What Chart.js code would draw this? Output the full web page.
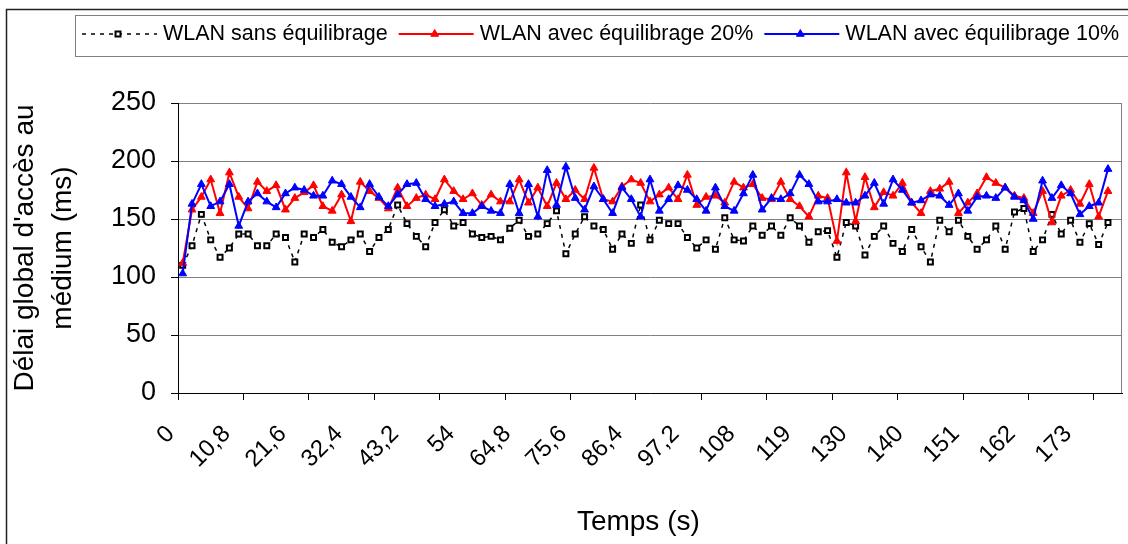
<!DOCTYPE html>
<html>
<head>
<meta charset="utf-8">
<script src="https://cdn.jsdelivr.net/npm/chart.js@4.4.1/dist/chart.umd.min.js"></script>
<style>
  html, body { margin: 0; padding: 0; background: #fff; }
  #wrap { width: 1128px; height: 544px; }
</style>
</head>
<body>
<div id="wrap"><canvas id="delayChart" width="1128" height="544"></canvas></div>
<script>
// series names, as in the legend
const seriesNames = ['WLAN sans équilibrage', 'WLAN avec équilibrage 20%', 'WLAN avec équilibrage 10%'];

// x axis: 101 slots of 1,8 s, a label every 6 slots
const tickLabels = ['0', '10,8', '21,6', '32,4', '43,2', '54', '64,8', '75,6', '86,4', '97,2',
  '108', '119', '130', '140', '151', '162', '173'];
const categories = Array.from({ length: 101 }, (_, i) => i);

// délai (ms)
const sansEquilibrage = [
  110, 127, 154, 132, 117, 125, 137, 137, 127, 127, 137, 134, 113, 137, 134, 141, 130, 126, 132, 137, 122, 134, 141, 162, 146,
  135, 126, 147, 158, 144, 147, 137, 134, 135, 132, 142, 149, 135, 137, 146, 157, 120, 137, 152, 144, 141, 124, 137, 129, 162,
  132, 149, 146, 146, 134, 125, 132, 124, 151, 132, 131, 144, 136, 144, 136, 151, 144, 130, 139, 140, 117, 147, 144, 119, 135,
  144, 129, 122, 141, 126, 113, 149, 139, 149, 135, 124, 132, 144, 124, 156, 159, 122, 132, 154, 137, 149, 130, 146, 128, 147
];
const equilibrage20 = [
  112, 158, 169, 184, 155, 190, 169, 159, 182, 174, 179, 158, 168, 173, 179, 161, 157, 171, 148, 182, 174, 168, 159, 177, 161,
  168, 171, 167, 184, 174, 167, 172, 162, 171, 165, 165, 184, 164, 177, 161, 181, 167, 175, 167, 194, 167, 165, 178, 184, 181,
  165, 171, 177, 167, 188, 162, 169, 170, 164, 182, 177, 180, 168, 167, 182, 167, 161, 152, 170, 168, 131, 190, 148, 186, 160,
  173, 170, 181, 164, 155, 174, 176, 182, 155, 164, 172, 186, 181, 177, 170, 168, 155, 174, 147, 170, 175, 163, 180, 152, 174
];
const equilibrage10 = [
  103, 163, 180, 161, 165, 180, 144, 165, 172, 165, 160, 172, 177, 175, 170, 170, 183, 180, 169, 160, 180, 169, 161, 171, 180,
  181, 167, 161, 163, 165, 155, 155, 161, 157, 155, 180, 155, 180, 152, 192, 162, 195, 168, 158, 178, 167, 155, 177, 167, 152,
  184, 157, 167, 179, 175, 167, 157, 177, 161, 157, 172, 188, 158, 168, 167, 172, 188, 180, 165, 165, 167, 164, 164, 170, 181,
  163, 184, 175, 164, 166, 171, 170, 162, 172, 157, 169, 170, 168, 177, 169, 166, 150, 183, 168, 179, 172, 154, 161, 164, 193
];

const FONT = '"Liberation Sans", Arial, sans-serif';

// frame round the whole chart + grey right edge of the plot
const framePlugin = {
  id: 'frame',
  beforeDraw(chart) {
    const ctx = chart.ctx;
    ctx.save();
    ctx.fillStyle = '#fff';
    ctx.fillRect(0, 0, chart.width, chart.height);
    ctx.restore();
  },
  beforeDatasetsDraw(chart) {
    const { ctx, chartArea } = chart;
    ctx.save();
    ctx.strokeStyle = '#808080';
    ctx.lineWidth = 1;
    ctx.beginPath();
    ctx.moveTo(Math.round(chartArea.right) - 0.5, chartArea.top);
    ctx.lineTo(Math.round(chartArea.right) - 0.5, chartArea.bottom);
    ctx.stroke();
    ctx.restore();
  },
  afterDraw(chart) {
    const ctx = chart.ctx;
    ctx.save();
    ctx.strokeStyle = '#222';
    ctx.lineWidth = 1.5;
    ctx.strokeRect(6.5, 9.5, 1140, 560);
    ctx.restore();
  }
};

// legend drawn by hand so the samples look like the original (line + marker)
const boxLegend = {
  id: 'boxLegend',
  afterDraw(chart) {
    const ctx = chart.ctx;
    const y = 34;
    ctx.save();
    ctx.fillStyle = '#fff';
    ctx.fillRect(75, 15, 1100, 42);
    ctx.strokeStyle = '#808080';
    ctx.lineWidth = 1;
    ctx.strokeRect(75.5, 15.5, 1100, 41);
    ctx.font = '21.5px ' + FONT;
    ctx.textBaseline = 'middle';
    let x = 82;
    chart.data.datasets.forEach(ds => {
      ctx.strokeStyle = ds.borderColor;
      ctx.lineWidth = ds.borderWidth;
      ctx.setLineDash(ds.borderDash || []);
      ctx.beginPath();
      ctx.moveTo(x, y);
      ctx.lineTo(x + 75, y);
      ctx.stroke();
      ctx.setLineDash([]);
      ctx.fillStyle = ds.pointBackgroundColor;
      ctx.strokeStyle = ds.pointBorderColor;
      ctx.lineWidth = ds.pointBorderWidth;
      Chart.helpers.drawPoint(ctx, {
        pointStyle: ds.pointStyle,
        radius: ds.pointRadius,
        borderWidth: ds.pointBorderWidth
      }, x + 36, y);
      ctx.fillStyle = '#000';
      ctx.fillText(ds.label, x + 81, y);
      x += 81 + ctx.measureText(ds.label).width + 11;
    });
    ctx.restore();
  }
};

new Chart(document.getElementById('delayChart'), {
  type: 'line',
  data: {
    labels: categories,
    datasets: [
      {
        label: seriesNames[0],
        data: sansEquilibrage,
        borderColor: '#000',
        borderWidth: 1.5,
        borderDash: [4, 5],
        pointStyle: 'rect',
        pointRadius: 3.5,
        pointBorderWidth: 2,
        pointBorderColor: '#000',
        pointBackgroundColor: '#fff',
        backgroundColor: '#fff',
        tension: 0,
        order: 2
      },
      {
        label: seriesNames[1],
        data: equilibrage20,
        borderColor: '#ff0000',
        backgroundColor: '#ff0000',
        borderWidth: 2,
        pointStyle: 'triangle',
        pointRadius: 4.5,
        pointBorderWidth: 1,
        pointBorderColor: '#ff0000',
        pointBackgroundColor: '#ff0000',
        tension: 0,
        order: 1
      },
      {
        label: seriesNames[2],
        data: equilibrage10,
        borderColor: '#0000ff',
        backgroundColor: '#0000ff',
        borderWidth: 2,
        pointStyle: 'triangle',
        pointRadius: 4.5,
        pointBorderWidth: 1,
        pointBorderColor: '#0000ff',
        pointBackgroundColor: '#0000ff',
        tension: 0,
        order: 0
      }
    ]
  },
  options: {
    responsive: false,
    animation: false,
    devicePixelRatio: 1,
    layout: { padding: { top: 103, right: 6, bottom: 0, left: 0 } },
    plugins: {
      legend: { display: false },
      tooltip: { enabled: false }
    },
    scales: {
      x: {
        type: 'category',
        offset: true,
        grid: {
          offset: true,
          drawOnChartArea: false,
          tickLength: 7,
          color: c => (c.index % 7 === 0 ? '#000' : 'rgba(0,0,0,0)'),
          tickColor: c => (c.index % 7 === 0 ? '#000' : 'rgba(0,0,0,0)')
        },
        border: { color: '#000', width: 1 },
        ticks: {
          autoSkip: false,
          minRotation: 45,
          maxRotation: 45,
          padding: 20,
          labelOffset: -12,
          color: '#000',
          font: { family: FONT, size: 24 },
          callback: (v, i) => (i % 6 === 0 ? tickLabels[i / 6] : '')
        },
        title: {
          display: true,
          text: 'Temps (s)\u00a0\u00a0\u00a0',
          color: '#000',
          font: { family: FONT, size: 28 },
          padding: { top: 0, bottom: 5 }
        },
        afterFit: s => {
          s.height = 151;
          s.paddingLeft = 0;
          s.paddingRight = 0;
        }
      },
      y: {
        min: 0,
        max: 250,
        grid: { color: '#808080', tickColor: '#000', tickLength: 7 },
        border: { color: '#000', width: 1 },
        ticks: {
          stepSize: 50,
          padding: 15,
          color: '#000',
          font: { family: FONT, size: 27 }
        },
        title: {
          display: true,
          text: ["Délai global d'accès au", 'médium (ms)'],
          color: '#000',
          font: { family: FONT, size: 28, lineHeight: 38 / 28 },
          padding: { top: 6, bottom: 0 }
        },
        afterFit: s => { s.width = 178; }
      }
    }
  },
  plugins: [framePlugin, boxLegend]
});
</script>
</body>
</html>
